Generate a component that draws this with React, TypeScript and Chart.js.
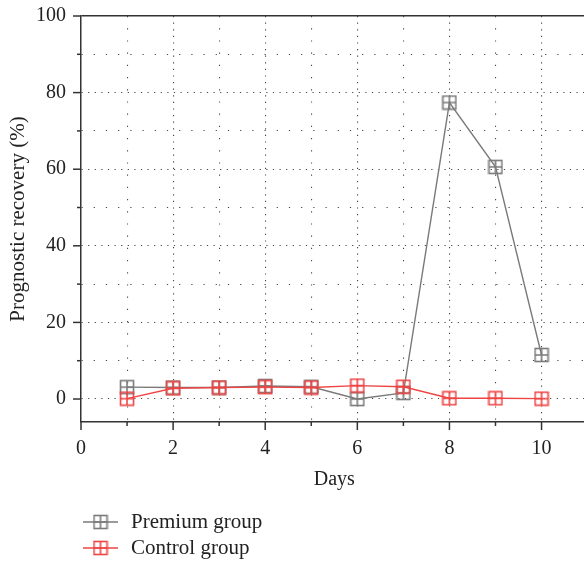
import React, { useEffect, useRef } from "react";
import { Chart, registerables } from "chart.js";

Chart.register(...registerables);

// ---- Data ----
const days = [1, 2, 3, 4, 5, 6, 7, 8, 9, 10];
const premiumGroup = [3.1, 3.0, 3.0, 3.4, 3.2, 0.0, 1.6, 77.4, 60.6, 11.5];
const controlGroup = [0.1, 2.8, 3.0, 3.1, 3.0, 3.5, 3.2, 0.2, 0.2, 0.1];
const seriesNames = ["Premium group", "Control group"];
const xGridValues = [0, 1, 2, 3, 4, 5, 6, 7, 8, 9, 10];
const yGridValues = [0, 10, 20, 30, 40, 50, 60, 70, 80, 90, 100];
const xTickLabels = ["0", "2", "4", "6", "8", "10"];
const yTickLabels = ["0", "20", "40", "60", "80", "100"];
const xAxisTitle = "Days";
const yAxisTitle = "Prognostic recovery (%)";

const FONT = "'Liberation Serif', 'Times New Roman', serif";
const GREY = "#7a7a7a";
const RED = "#ee4444";
const AXIS = "#333333";
const TEXT = "#222222";
const GRID = "rgba(50,50,50,0.9)";

const lbl = (v: any) => String(Math.round(Number(v) * 1000) / 1000);

function makeMarker(color: string): HTMLCanvasElement {
  const size = 16;
  const c = document.createElement("canvas");
  c.width = size;
  c.height = size;
  const g = c.getContext("2d")!;
  g.strokeStyle = color;
  g.lineWidth = 1.6;
  g.strokeRect(1.5, 1.5, 13, 13);
  g.beginPath();
  g.moveTo(8, 1.5);
  g.lineTo(8, 14.5);
  g.moveTo(1.5, 8);
  g.lineTo(14.5, 8);
  g.stroke();
  return c;
}

export default function App() {
  const ref = useRef<HTMLCanvasElement | null>(null);

  useEffect(() => {
    if (!ref.current) return;
    const greyMarker = makeMarker(GREY);
    const redMarker = makeMarker(RED);

    const tickPlugin = {
      id: "customTicks",
      afterDraw(chart: any) {
        const { ctx, chartArea } = chart;
        const xs = chart.scales.x;
        const ys = chart.scales.y;
        ctx.save();
        ctx.strokeStyle = AXIS;
        ctx.lineWidth = 1.5;
        xs.ticks.forEach((t: any) => {
          const px = xs.getPixelForValue(t.value);
          const len = xTickLabels.includes(lbl(t.value)) ? 8 : 4;
          ctx.beginPath();
          ctx.moveTo(px, chartArea.bottom);
          ctx.lineTo(px, chartArea.bottom + len);
          ctx.stroke();
        });
        ys.ticks.forEach((t: any) => {
          const py = ys.getPixelForValue(t.value);
          const len = yTickLabels.includes(lbl(t.value)) ? 8 : 4;
          ctx.beginPath();
          ctx.moveTo(chartArea.left, py);
          ctx.lineTo(chartArea.left - len, py);
          ctx.stroke();
        });
        ctx.restore();
      },
    };

    const legendPlugin = {
      id: "customLegend",
      afterDraw(chart: any) {
        const { ctx, chartArea } = chart;
        const items = [
          { name: seriesNames[0], color: GREY, marker: greyMarker },
          { name: seriesNames[1], color: RED, marker: redMarker },
        ];
        ctx.save();
        items.forEach((it, i) => {
          const yy = chartArea.bottom + 100 + i * 26;
          const x0 = chartArea.left + 2;
          ctx.strokeStyle = it.color;
          ctx.lineWidth = 1.3;
          ctx.beginPath();
          ctx.moveTo(x0, yy);
          ctx.lineTo(x0 + 35, yy);
          ctx.stroke();
          ctx.drawImage(it.marker, x0 + 17.5 - 8, yy - 8);
          ctx.fillStyle = TEXT;
          ctx.font = `21px ${FONT}`;
          ctx.textBaseline = "middle";
          ctx.textAlign = "left";
          ctx.fillText(it.name, chartArea.left + 50, yy);
        });
        ctx.restore();
      },
    };

    const chart = new Chart(ref.current, {
      type: "line",
      data: {
        datasets: [
          {
            label: seriesNames[0],
            data: days.map((d, i) => ({ x: d, y: premiumGroup[i] })),
            borderColor: GREY,
            backgroundColor: GREY,
            borderWidth: 1.4,
            pointStyle: greyMarker as any,
            pointRadius: 7,
            tension: 0,
            order: 2,
          },
          {
            label: seriesNames[1],
            data: days.map((d, i) => ({ x: d, y: controlGroup[i] })),
            borderColor: RED,
            backgroundColor: RED,
            borderWidth: 1.4,
            pointStyle: redMarker as any,
            pointRadius: 7,
            tension: 0,
            order: 1,
          },
        ],
      },
      options: {
        animation: false,
        responsive: false,
        layout: { padding: { left: 6, top: 16, right: 0, bottom: 69 } },
        plugins: {
          legend: { display: false },
          tooltip: { enabled: false },
        },
        scales: {
          x: {
            type: "linear",
            min: 0,
            max: 11,
            afterBuildTicks: (s: any) => {
              s.ticks = xGridValues.map((v) => ({ value: v }));
            },
            afterFit: (s: any) => {
              s.height = 70;
            },
            ticks: {
              stepSize: 1,
              autoSkip: false,
              maxRotation: 0,
              padding: 3,
              color: TEXT,
              font: { family: FONT, size: 20 },
              callback: (v: any) => (xTickLabels.includes(lbl(v)) ? lbl(v) : ""),
            },
            grid: {
              drawTicks: true,
              tickLength: 12,
              tickColor: "rgba(0,0,0,0)",
              lineWidth: 1.1,
              color: GRID,
            },
            border: {
              display: true,
              color: AXIS,
              width: 1.5,
              dash: (c: any) =>
                c.tick ? (xTickLabels.includes(lbl(c.tick.value)) ? [1.2, 5.4] : [1.2, 11]) : [],
            },
            title: {
              display: true,
              text: xAxisTitle,
              color: TEXT,
              font: { family: FONT, size: 20 },
              padding: 0,
            },
          },
          y: {
            type: "linear",
            min: -6,
            max: 100,
            afterBuildTicks: (s: any) => {
              s.ticks = yGridValues.map((v) => ({ value: v }));
            },
            afterFit: (s: any) => {
              s.width = 75;
            },
            ticks: {
              stepSize: 10,
              autoSkip: false,
              padding: 3,
              color: TEXT,
              font: { family: FONT, size: 20 },
              callback: (v: any) => (yTickLabels.includes(lbl(v)) ? lbl(v) : ""),
            },
            grid: {
              drawTicks: true,
              tickLength: 12,
              tickColor: "rgba(0,0,0,0)",
              lineWidth: (c: any) => (c.tick && c.tick.value === 100 ? 1.5 : 1.1),
              color: (c: any) => (c.tick && c.tick.value === 100 ? AXIS : GRID),
            },
            border: {
              display: true,
              color: AXIS,
              width: 1.5,
              dash: (c: any) =>
                c.tick
                  ? c.tick.value === 100
                    ? []
                    : yTickLabels.includes(lbl(c.tick.value))
                    ? [1.2, 5.4]
                    : [1.2, 11]
                  : [],
            },
            title: {
              display: true,
              text: yAxisTitle,
              color: TEXT,
              font: { family: FONT, size: 21 },
              padding: 0,
            },
          },
        },
      },
      plugins: [tickPlugin, legendPlugin],
    });

    return () => chart.destroy();
  }, []);

  return (
    <div style={{ position: "absolute", left: 0, top: 0, width: 584, height: 561, overflow: "hidden" }}>
      <canvas ref={ref} width={596} height={561} style={{ display: "block" }} />
    </div>
  );
}
